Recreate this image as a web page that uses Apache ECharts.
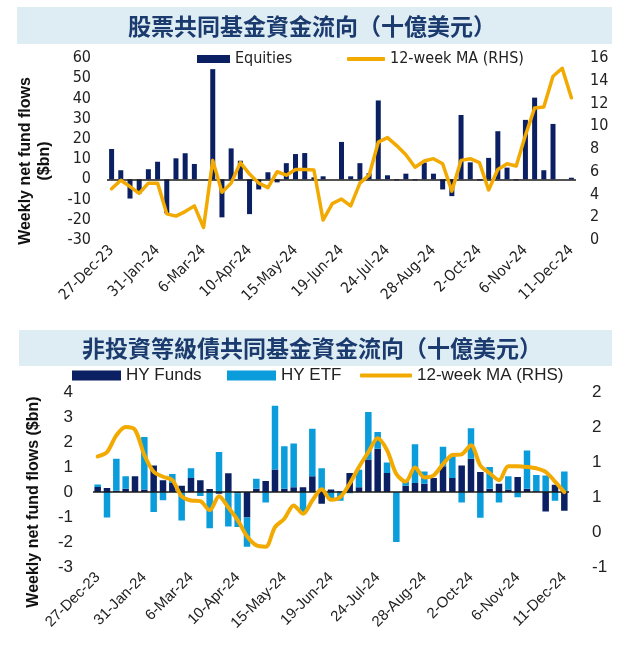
<!DOCTYPE html>
<html><head><meta charset="utf-8">
<script src="https://cdn.jsdelivr.net/npm/echarts@6/dist/echarts.min.js"></script>
<style>html,body{margin:0;padding:0;background:#fff}#c{width:623px;height:645px}</style>
</head><body><div id="c"></div><script>
const dates = ['27-Dec-23','3-Jan-24','10-Jan-24','17-Jan-24','24-Jan-24','31-Jan-24','7-Feb-24','14-Feb-24','21-Feb-24','28-Feb-24',
'6-Mar-24','13-Mar-24','20-Mar-24','27-Mar-24','3-Apr-24','10-Apr-24','17-Apr-24','24-Apr-24','1-May-24','8-May-24',
'15-May-24','22-May-24','29-May-24','5-Jun-24','12-Jun-24','19-Jun-24','26-Jun-24','3-Jul-24','10-Jul-24','17-Jul-24',
'24-Jul-24','31-Jul-24','7-Aug-24','14-Aug-24','21-Aug-24','28-Aug-24','4-Sep-24','11-Sep-24','18-Sep-24','25-Sep-24',
'2-Oct-24','9-Oct-24','16-Oct-24','23-Oct-24','30-Oct-24','6-Nov-24','13-Nov-24','20-Nov-24','27-Nov-24','4-Dec-24','11-Dec-24'];

const equities = [15, 4.5, -9.5, -7, 5, 8.7, -16.8, 10.4, 12.9, 7.6, 0, 54.5, -18.8, 15.3, 9.2, -17.2, -5, 3.5, -1.5, 8, 12.5, 13, 1, 1.5, 0,
18.5, 1.5, 8, 3, 39, 2, -0.5, 2.8, -0.5, 8.3, 2.8, -5, -8.3, 31.8, 8.4, -0.5, 10.6, 23.8, 5.8, -0.5, 29.4, 40.4, 4.5, 27.4, 0, 0.8];
const equitiesMA = [4.5, 5.25, 4.7, 4.1, 5.0, 5.0, 2.3, 2.1, 2.5, 3.0, 1.1, 7.0, 4.2, 5.0, 6.8, 5.8, 5.0, 4.6, 6.0, 5.7, 6.2, 6.2, 6.15, 1.75, 3.2,
3.6, 3.0, 5.0, 5.7, 8.6, 9.0, 8.3, 7.5, 6.4, 6.95, 7.15, 6.7, 4.3, 7.0, 7.15, 6.8, 4.4, 6.2, 6.7, 6.5, 9.2, 11.6, 11.7, 14.4, 15.1, 12.5];

const hyFunds = [0.2, 0.16, 0.05, 0.13, 0.63, 0.1, 1.06, 0.47, 0.36, 0.25, 0.56, 0.47, 0.12, -0.07, 0.75, -0.05, -1.02, 0.13, 0.44, 0.9,
0.13, 0.19, 0.19, 0.63, -0.47, 0.1, 0.02, 0.76, 0.19, 1.3, 1.73, 0.76, -0.02, 0.25, 0.36, 0.33, 0.56, 1.03, 0.56, 1.06,
1.33, 0.8, 0.13, 0.33, 0.1, 0.6, 0.13, 0.03, -0.78, 0.29, -0.75];
const hyETF = [0.1, -1.02, 1.28, 0.5, 0, 2.1, -0.8, -0.33, 0.36, -1.14, 0.39, -0.16, -1.45, 1.6, -1.38, -1.35, -1.17, 0.4, -0.42, 2.55,
1.7, 1.75, -0.85, 1.9, 0.95, -0.33, -0.35, -0.05, 0.7, 1.9, 0.67, 0.42, -1.98, 0.18, 1.55, 0.49, 0, 0.78, 0.87, -0.42,
1.22, -1.03, 0.87, -0.42, 0.53, -0.21, 1.53, 0.65, 0.66, -0.35, 0.82];
const hyMA = [1.08, 1.14, 1.38, 1.5, 1.46, 1.1, 0.86, 0.79, 0.74, 0.51, 0.45, 0.44, 0.31, 0.51, 0.35, 0.17, -0.06, -0.19, -0.21, 0.07,
0.19, 0.38, 0.26, 0.45, 0.61, 0.46, 0.5, 0.69, 0.93, 1.14, 1.34, 1.17, 0.83, 0.72, 0.92, 0.78, 0.81, 0.97, 1.1, 1.11,
1.24, 0.95, 0.84, 0.74, 0.94, 0.94, 0.93, 0.91, 0.86, 0.72, 0.57];

const NARROW = "'Liberation Sans Narrow','DejaVu Sans Condensed','Arial Narrow',sans-serif";
const NORMAL = "'Liberation Sans','Noto Sans',sans-serif";
const CJK = "'Noto Sans CJK TC','Noto Sans CJK SC',sans-serif";
const NAVY = '#0B2062', LIGHT = '#0A9CDB', ORANGE = '#F2A900', TXT = '#222';

const chart = echarts.init(document.getElementById('c'), null, {renderer:'canvas'});

function valAxis(grid, pos, min, max, interval, font, size, margin, fmt) {
  return {gridIndex:grid, type:'value', position:pos, min:min, max:max, interval:interval,
    splitLine:{show:false}, axisLine:{show:false}, axisTick:{show:false},
    axisLabel:{fontFamily:font, fontSize:size, color:TXT, margin:margin, formatter:fmt}};
}
function catAxis(grid, font, size) {
  return {gridIndex:grid, type:'category', data:dates, axisLine:{show:false, onZero:false}, axisTick:{show:false},
    axisLabel:{interval:4, rotate:45, fontFamily:font, fontSize:size, color:TXT, margin:8}};
}
const zeroLine = {silent:true, symbol:'none', label:{show:false}, lineStyle:{color:'#1a1a1a', width:1.5, type:'solid'}, data:[{yAxis:0}]};
const roundHalf = v => String(Math.sign(v) * Math.round(Math.abs(v)));

chart.setOption({
  animation:false,
  backgroundColor:'#fff',
  grid:[
    {left:107, width:469, top:58, height:182},
    {left:93, width:476, top:392, height:175}
  ],
  xAxis:[catAxis(0, NARROW, 15), catAxis(1, NORMAL, 15)],
  yAxis:[
    valAxis(0,'left',-30,60,10,NARROW,16,16),
    valAxis(0,'right',0,16,2,NARROW,16,14),
    valAxis(1,'left',-3,4,1,NORMAL,17,20),
    valAxis(1,'right',-0.5,2,0.5,NORMAL,17,23,roundHalf)
  ],
  legend:[
    {data:['Equities'], left:197, top:51, padding:0, selectedMode:false, icon:'rect', itemWidth:33, itemHeight:8,
      textStyle:{fontFamily:NARROW, fontSize:16, color:TXT}},
    {data:['12-week MA (RHS)'], left:347, top:51, padding:0, selectedMode:false, icon:'roundRect', itemWidth:38, itemHeight:4,
      textStyle:{fontFamily:NARROW, fontSize:16, color:TXT}},
    {data:['HY Funds'], left:72, top:367, padding:0, selectedMode:false, icon:'rect', itemWidth:49, itemHeight:10,
      textStyle:{fontFamily:NORMAL, fontSize:17, color:TXT}},
    {data:['HY ETF'], left:227, top:367, padding:0, selectedMode:false, icon:'rect', itemWidth:49, itemHeight:10,
      textStyle:{fontFamily:NORMAL, fontSize:17, color:TXT}},
    {data:['12-week MA  (RHS)'], left:360, top:367, padding:0, selectedMode:false, icon:'roundRect', itemWidth:52, itemHeight:4,
      textStyle:{fontFamily:NORMAL, fontSize:17, color:TXT},
      formatter: () => '12-week MA (RHS)'}
  ],
  graphic:[
    {type:'rect', shape:{x:17, y:7, width:595, height:37}, style:{fill:'#DDEDF3'}, silent:true},
    {type:'text', x:312, y:26, style:{text:'股票共同基金資金流向（十億美元）', fill:'#1B3A6E', font:'bold 23px ' + CJK, align:'center', verticalAlign:'middle'}, silent:true},
    {type:'rect', shape:{x:19, y:330, width:593, height:36}, style:{fill:'#DDEDF3'}, silent:true},
    {type:'text', x:312, y:348, style:{text:'非投資等級債共同基金資金流向（十億美元）', fill:'#1B3A6E', font:'bold 23px ' + CJK, align:'center', verticalAlign:'middle'}, silent:true},
    {type:'text', x:26, y:161, rotation:Math.PI/2, style:{text:'Weekly net fund flows', fill:'#111', font:'bold 16px ' + NORMAL, align:'center', verticalAlign:'middle'}, silent:true},
    {type:'text', x:45, y:161, rotation:Math.PI/2, style:{text:'($bn)', fill:'#111', font:'bold 16px ' + NORMAL, align:'center', verticalAlign:'middle'}, silent:true},
    {type:'text', x:34, y:502, rotation:Math.PI/2, style:{text:'Weekly net fund flows ($bn)', fill:'#111', font:'bold 16px ' + NORMAL, align:'center', verticalAlign:'middle'}, silent:true}
  ],
  series:[
    {type:'bar', name:'Equities', xAxisIndex:0, yAxisIndex:0, data:equities, barWidth:5, color:NAVY, itemStyle:{color:NAVY}, markLine:zeroLine, z:2},
    {type:'line', name:'12-week MA (RHS)', xAxisIndex:0, yAxisIndex:1, data:equitiesMA, symbol:'none', color:ORANGE,
      lineStyle:{color:ORANGE, width:3.5, join:'round', cap:'round'}, z:5},
    {type:'bar', name:'HY Funds', xAxisIndex:1, yAxisIndex:2, data:hyFunds, stack:'hy', barWidth:6.5, color:NAVY, itemStyle:{color:NAVY}, markLine:zeroLine, z:2},
    {type:'bar', name:'HY ETF', xAxisIndex:1, yAxisIndex:2, data:hyETF, stack:'hy', barWidth:6.5, color:LIGHT, itemStyle:{color:LIGHT}, z:2},
    {type:'line', name:'12-week MA  (RHS)', xAxisIndex:1, yAxisIndex:3, data:hyMA, symbol:'none', smooth:0.3, color:ORANGE,
      lineStyle:{color:ORANGE, width:4, join:'round', cap:'round'}, z:5}
  ]
});
</script></body></html>
